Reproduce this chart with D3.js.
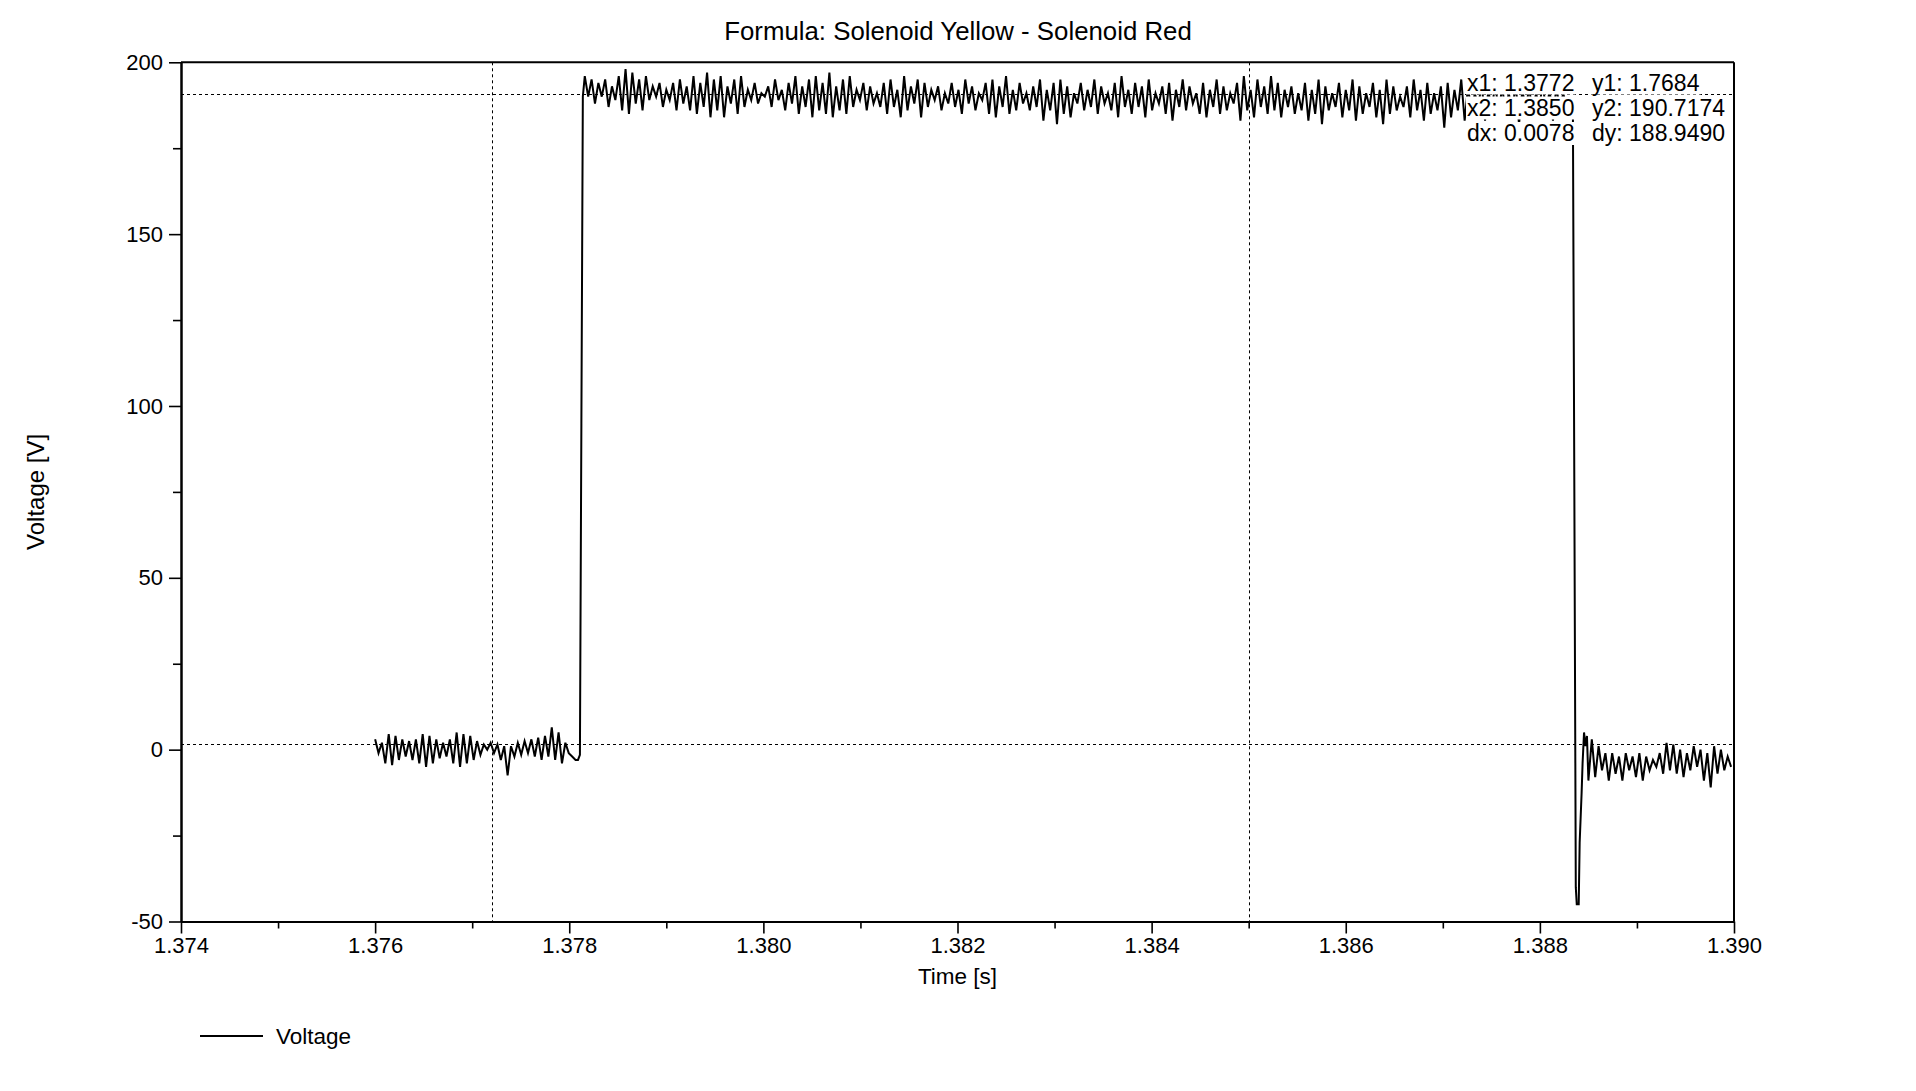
<!DOCTYPE html>
<html>
<head>
<meta charset="utf-8">
<script src="https://cdn.jsdelivr.net/npm/d3@7"></script>
<style>
  html, body { margin: 0; padding: 0; background: #fff; }
  svg { display: block; }
  text { font-family: "Liberation Sans", Arial, "DejaVu Sans", sans-serif; fill: #000; }
</style>
</head>
<body>
<svg id="chart" width="1916" height="1091"></svg>
<script>
// ---------------- DATA ----------------
const titleText = "Formula: Solenoid Yellow - Solenoid Red";
const xLabel = "Time [s]";
const yLabel = "Voltage [V]";
const seriesName = "Voltage";

const xDomain = [1.374, 1.390];
const yDomain = [-50, 200];
const xTickValues = [1.374, 1.376, 1.378, 1.380, 1.382, 1.384, 1.386, 1.388, 1.390];
const xMinorTickValues = [1.375, 1.377, 1.379, 1.381, 1.383, 1.385, 1.387, 1.389];
const yTickValues = [-50, 0, 50, 100, 150, 200];
const yMinorTickValues = [-25, 25, 75, 125, 175];

// sample interval of the recorded trace (s)
const sampleInterval = 0.000035;

// segment before switch-on
const preStart = 1.37600;
const preValues = [3.0, -1, 2, -4, 4.5, -4.5, 4, -3, 3, -2, 2.5, -3, 3, -4, 4.5, -5, 4, -4, 3, -2.5,
  2, -2, 3, -4, 5, -5, 4.5, -4, 4, -3, 2.5, -1.5, 1.5, 0, 2, -1, 1.5, -3, 1, -7.5,
  1, -2, 2, -1.5, 2.5, -1, 3, -2, 3.5, -3, 4, -2, 6.5, -3, 5, -4, 2, -1, -2, -3];

// switch-on edge
const riseTimes = [1.37809, 1.37811, 1.378125, 1.37814];
const riseValues = [-3, -1.5, 95, 190];

// on segment
const highValues = [
  196, 190, 195, 188, 194, 190, 195, 187, 193, 189, 196, 186, 198, 185, 197, 188, 195, 186, 196, 189,
  193, 190, 194, 187, 192, 189, 194, 186, 195, 188, 193, 186, 196, 185, 194, 187, 197, 184, 195, 186,
  196, 184, 193, 188, 195, 185, 196, 187, 192, 189, 194, 188, 191, 190, 193, 187, 195, 189, 192, 186,
  194, 188, 196, 185, 193, 187, 195, 184, 196, 186, 194, 185, 197, 184, 193, 186, 195, 185, 196, 187,
  192, 189, 194, 186, 193, 188, 191, 187, 194, 185, 195, 187, 192, 184, 196, 186, 193, 188, 195, 184,
  194, 187, 192, 189, 193, 186, 191, 188, 194, 187, 192, 185, 195, 188, 193, 186, 191, 189, 194, 185,
  195, 184, 193, 187, 196, 185, 192, 186, 194, 188, 191, 186, 193, 187, 195, 183, 192, 186, 194, 182,
  195, 185, 193, 184, 191, 188, 194, 186, 192, 187, 195, 185, 193, 188, 191, 186, 194, 184, 196, 187,
  192, 185, 194, 187, 193, 184, 195, 186, 191, 188, 193, 185, 194, 183, 192, 187, 195, 186, 193, 188,
  191, 185, 194, 184, 192, 187, 195, 185, 193, 186, 191, 188, 194, 183, 196, 186, 192, 184, 195, 187,
  193, 185, 196, 186, 194, 184, 192, 187, 193, 185, 191, 186, 194, 183, 192, 185, 195, 182, 193, 186,
  191, 187, 194, 184, 192, 186, 195, 183, 193, 185, 191, 187, 194, 184, 192, 182, 195, 185, 193, 186,
  190, 187, 193, 184, 195, 186, 192, 183, 194, 185, 191, 186, 193, 181, 194, 184, 192, 186, 195, 183,
  193, 185, 191, 187, 194, 183, 192, 185, 195, 184, 193, 186, 191, 185, 194, 182, 192, 186, 193, 184,
  191, 187, 194, 185, 192, 183, 193, 186, 191, 187, 189];
const highStart = 1.37816;

// switch-off edge
const fallTimes = [1.38834, 1.388355, 1.38837, 1.38838, 1.3884, 1.38841, 1.38843, 1.38844, 1.388455, 1.38847, 1.388485];
const fallValues = [188, 76, -40, -45, -45, -27, -12.6, -4, 5, 1, 4];

// segment after switch-off
const tailStart = 1.38850;
const tailValues = [-9, 3, -8, 1, -6, -1, -9, -1, -7, -2, -9, -1, -6, -2, -8, -1, -9, -2, -6, -3,
  -5, -1, -7, 2, -6, 1.5, -7, 0, -8, -1, -6, 1, -5, 0, -9, -1, -11, 1, -7, 0, -6, -2, -5];

// cursors
const cursorX = [1.3772, 1.3850];
const cursorY = [1.7684, 190.7174];
const readoutCol1 = ["x1: 1.3772", "x2: 1.3850", "dx: 0.0078"];
const readoutCol2 = ["y1: 1.7684", "y2: 190.7174", "dy: 188.9490"];

// ---------------- BUILD ----------------
const trace = [];
preValues.forEach((v, i) => trace.push([preStart + i * sampleInterval, v]));
riseTimes.forEach((t, i) => trace.push([t, riseValues[i]]));
highValues.forEach((v, i) => trace.push([highStart + i * sampleInterval, v]));
fallTimes.forEach((t, i) => trace.push([t, fallValues[i]]));
tailValues.forEach((v, i) => trace.push([tailStart + i * sampleInterval, v]));

const svg = d3.select("#chart");
const plot = { left: 181, right: 1734, top: 62.3, bottom: 921.5 };

const x = d3.scaleLinear().domain(xDomain).range([plot.left, plot.right]);
const y = d3.scaleLinear().domain(yDomain).range([plot.bottom, plot.top]);

// title
svg.append("text")
  .attr("x", 958).attr("y", 40)
  .attr("text-anchor", "middle")
  .style("font-size", "25.8px")
  .text(titleText);

// cursor lines
const cur = svg.append("g").attr("stroke", "#000").attr("stroke-width", 1).attr("stroke-dasharray", "3,3");
cursorX.forEach(v => {
  cur.append("line").attr("x1", Math.round(x(v)) + 0.5).attr("x2", Math.round(x(v)) + 0.5)
    .attr("y1", plot.top).attr("y2", plot.bottom);
});
cursorY.forEach(v => {
  cur.append("line").attr("y1", Math.round(y(v)) + 0.5).attr("y2", Math.round(y(v)) + 0.5)
    .attr("x1", plot.left).attr("x2", plot.right);
});

// trace
const line = d3.line().x(d => x(d[0])).y(d => y(d[1]));
svg.append("path")
  .datum(trace)
  .attr("fill", "none")
  .attr("stroke", "#000")
  .attr("stroke-width", 2)
  .attr("stroke-linejoin", "miter")
  .attr("d", line);

// frame (top & right)
svg.append("line").attr("x1", plot.left).attr("x2", plot.right).attr("y1", plot.top).attr("y2", plot.top)
  .attr("stroke", "#000").attr("stroke-width", 2);
svg.append("line").attr("x1", plot.right).attr("x2", plot.right).attr("y1", plot.top).attr("y2", plot.bottom)
  .attr("stroke", "#000").attr("stroke-width", 2);

// axes
const fmtX = d3.format(".3f");
const fmtY = d => String(d);
const xAxis = d3.axisBottom(x).tickValues(xTickValues).tickFormat(fmtX).tickSize(12).tickSizeOuter(0).tickPadding(4);
const xMinor = d3.axisBottom(x).tickValues(xMinorTickValues).tickFormat("").tickSize(7).tickSizeOuter(0);
const yAxis = d3.axisLeft(y).tickValues(yTickValues).tickFormat(fmtY).tickSize(12).tickSizeOuter(0).tickPadding(6);
const yMinor = d3.axisLeft(y).tickValues(yMinorTickValues).tickFormat("").tickSize(8).tickSizeOuter(0);

function styleAxis(g) {
  g.selectAll(".domain").attr("stroke", "#000").attr("stroke-width", 2);
  g.selectAll(".tick line").attr("stroke", "#000").attr("stroke-width", 1.6);
  g.selectAll(".tick text").style("font-size", "22px").attr("fill", "#000")
    .style("font-family", '"Liberation Sans", Arial, sans-serif');
}
svg.append("g").attr("transform", `translate(0,${plot.bottom})`).call(xMinor).call(styleAxis);
svg.append("g").attr("transform", `translate(0,${plot.bottom})`).call(xAxis).call(styleAxis);
svg.append("g").attr("transform", `translate(${plot.left},0)`).call(yMinor).call(styleAxis);
svg.append("g").attr("transform", `translate(${plot.left},0)`).call(yAxis).call(styleAxis);

// axis labels
svg.append("text")
  .attr("x", (plot.left + plot.right) / 2).attr("y", 984)
  .attr("text-anchor", "middle").style("font-size", "22.5px")
  .text(xLabel);
svg.append("text")
  .attr("transform", `translate(44,${(plot.top + plot.bottom) / 2}) rotate(-90)`)
  .attr("text-anchor", "middle").style("font-size", "24px")
  .text(yLabel);

// cursor readout (white-backed texts)
const readout = svg.append("g");
const rowBaselines = [90.5, 115.5, 141];
function addReadout(txt, xx, yy) {
  const g = readout.append("g");
  const r = g.append("rect").attr("fill", "#fff");
  const t = g.append("text").attr("x", xx).attr("y", yy).style("font-size", "23px").text(txt);
  const b = t.node().getBBox();
  r.attr("x", b.x - 1).attr("y", b.y + 2).attr("width", b.width + 2).attr("height", b.height - 3);
}
readoutCol1.forEach((s, i) => addReadout(s, 1467, rowBaselines[i]));
readoutCol2.forEach((s, i) => addReadout(s, 1592, rowBaselines[i]));

// legend
svg.append("line").attr("x1", 200).attr("x2", 263).attr("y1", 1036).attr("y2", 1036)
  .attr("stroke", "#000").attr("stroke-width", 2);
svg.append("text").attr("x", 276).attr("y", 1036).attr("dy", "0.35em")
  .style("font-size", "22.5px").text(seriesName);
</script>
</body>
</html>
